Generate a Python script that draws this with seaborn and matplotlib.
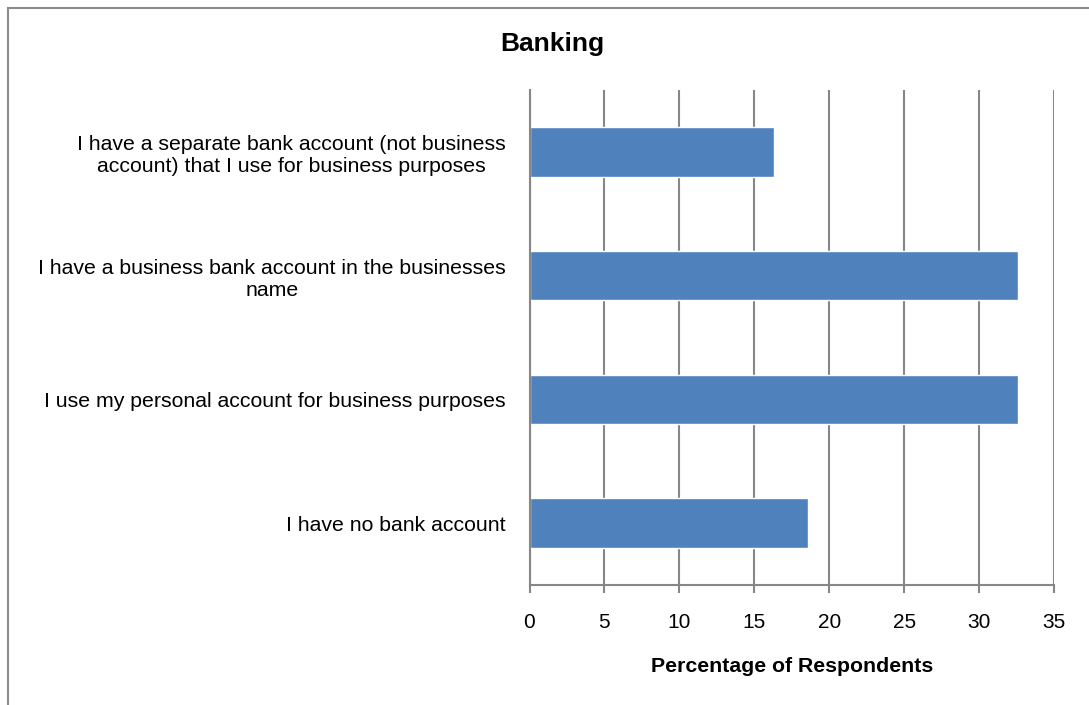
import matplotlib
matplotlib.use("Agg")
import matplotlib.pyplot as plt
from matplotlib.patches import Rectangle
import seaborn as sns
import pandas as pd

categories = [
    "I have a separate bank account (not business\naccount) that I use for business purposes",
    "I have a business bank account in the businesses\nname",
    "I use my personal account for business purposes",
    "I have no bank account",
]
percentages = [16.3, 32.6, 32.6, 18.6]
x_ticks = [0, 5, 10, 15, 20, 25, 30, 35]

sns.set_theme(style="white")
plt.rcParams["font.family"] = ["Liberation Sans", "DejaVu Sans"]

df = pd.DataFrame({"Category": categories, "Percent": percentages})

W, H = 1089, 705
fig = plt.figure(figsize=(W / 100, H / 100), dpi=100)
ax = fig.add_axes([529.5 / W, 1 - 585 / H, (1054 - 529.5) / W, (585 - 90) / H])

grid_col = "#878787"
ax.set_axisbelow(True)
ax.xaxis.grid(True, color=grid_col, linewidth=1.5)

sns.barplot(data=df, x="Percent", y="Category", orient="h", color="#4F81BD",
            saturation=1, width=0.4, ax=ax)

ax.set_xlim(0, 35)
ax.set_ylim(3.5, -0.5)
ax.set_xticks(x_ticks)
ax.set_xticklabels([str(t) for t in x_ticks], fontsize=15, color="black")
ax.tick_params(axis="x", bottom=True, length=6, width=1.5, color=grid_col, pad=14)
ax.tick_params(axis="y", left=False, pad=11)
for t in ax.get_yticklabels():
    t.set_fontsize(15.3)
    t.set_color("black")
    t.set_multialignment("center")
    t.set_linespacing(1.2)

for side in ["top", "right"]:
    ax.spines[side].set_visible(False)
for side in ["left", "bottom"]:
    ax.spines[side].set_color(grid_col)
    ax.spines[side].set_linewidth(1.5)

ax.set_ylabel("")
ax.set_xlabel("Percentage of Respondents", fontsize=15.3, fontweight="bold",
              color="black", labelpad=18)

fig.text(552 / W, 1 - 44 / H, "Banking", ha="center", va="center",
         fontsize=19, fontweight="bold", color="black")

# Chart-area frame (only its top and left edges fall inside the canvas)
fig.patches.append(Rectangle((7.5 / W, -0.1), 1.2, 1 - 7.5 / H + 0.1,
                             transform=fig.transFigure, fill=False,
                             edgecolor="#8c8c8c", linewidth=1.5))

fig.savefig("out.png", dpi=100, facecolor="white")
